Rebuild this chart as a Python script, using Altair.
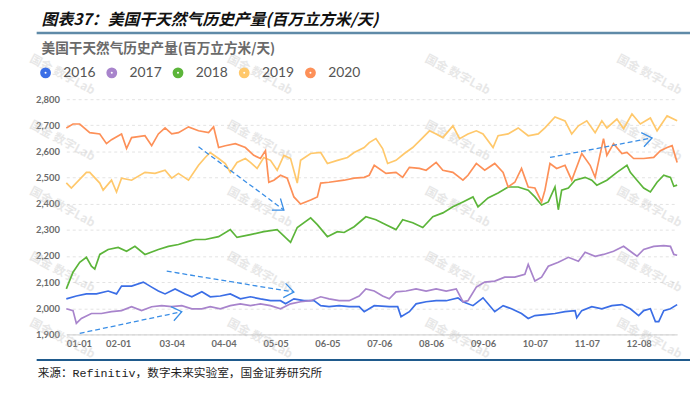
import altair as alt
import pandas as pd
import numpy as np

years = ["2016", "2017", "2018", "2019", "2020"]
colors = ["#3b6ee6", "#a884cc", "#5cb53a", "#ffc86b", "#fd9058"]

days_2016 = [0, 6, 12, 18, 25, 30, 33, 39, 46, 51, 55, 59, 65, 71, 75, 81, 86, 92, 98, 104, 110, 116, 122, 128, 131, 136, 142, 148, 152, 157, 163, 169, 175, 178, 184, 193, 198, 200, 205, 209, 215, 221, 227, 234, 237, 243, 249, 252, 256, 261, 266, 272, 276, 280, 286, 292, 298, 304, 305, 308, 314, 320, 326, 332, 337, 342, 345, 349, 352, 354, 357, 361, 365]
vals_2016 = [2036, 2047, 2055, 2055, 2066, 2055, 2085, 2085, 2100, 2081, 2066, 2055, 2074, 2055, 2044, 2063, 2044, 2047, 2055, 2036, 2044, 2036, 2029, 2029, 2017, 2036, 2029, 2029, 2010, 2006, 2010, 2006, 2006, 1987, 2010, 2006, 2006, 1968, 1987, 2017, 2025, 2029, 2029, 2040, 2025, 2010, 2040, 2017, 1987, 2010, 1998, 1980, 1961, 1972, 1976, 1980, 1987, 1991, 1964, 1991, 2006, 1998, 2010, 2014, 1998, 1972, 1991, 1998, 1949, 1949, 1991, 1998, 2014]

days_2017 = [0, 4, 6, 9, 15, 21, 27, 33, 39, 45, 51, 57, 63, 69, 75, 81, 86, 92, 98, 104, 110, 116, 122, 128, 134, 140, 146, 152, 157, 163, 169, 175, 179, 184, 189, 193, 197, 203, 209, 215, 221, 227, 233, 237, 240, 245, 250, 256, 262, 268, 274, 276, 280, 284, 288, 294, 300, 306, 310, 316, 321, 327, 333, 337, 341, 345, 351, 357, 361, 363, 365]
vals_2017 = [1998, 1991, 1942, 1961, 1980, 1980, 1987, 1991, 2006, 1991, 2006, 2010, 2006, 2010, 1998, 1998, 2006, 1998, 2010, 2017, 2010, 2017, 2010, 1998, 2017, 2025, 2029, 2044, 2036, 2029, 2029, 2047, 2074, 2066, 2047, 2036, 2063, 2066, 2074, 2066, 2074, 2066, 2074, 2025, 2029, 2081, 2100, 2104, 2119, 2119, 2130, 2168, 2104, 2119, 2161, 2176, 2195, 2180, 2214, 2199, 2206, 2218, 2237, 2218, 2199, 2225, 2237, 2240, 2237, 2206, 2203]

days_2018 = [0, 4, 8, 12, 15, 17, 20, 25, 31, 36, 41, 47, 55, 61, 67, 73, 77, 83, 91, 98, 102, 110, 118, 126, 134, 138, 146, 150, 156, 162, 166, 172, 179, 185, 191, 197, 201, 207, 213, 219, 225, 231, 237, 243, 246, 252, 258, 264, 270, 276, 280, 284, 288, 292, 294, 296, 300, 304, 310, 314, 317, 323, 329, 335, 337, 341, 345, 349, 353, 357, 361, 363, 365]
vals_2018 = [2074, 2138, 2176, 2195, 2161, 2150, 2206, 2225, 2233, 2218, 2237, 2206, 2225, 2237, 2244, 2256, 2263, 2263, 2274, 2301, 2271, 2282, 2293, 2301, 2252, 2309, 2346, 2320, 2274, 2293, 2290, 2312, 2350, 2339, 2320, 2301, 2339, 2327, 2309, 2350, 2365, 2388, 2407, 2426, 2388, 2422, 2441, 2464, 2464, 2452, 2426, 2395, 2407, 2464, 2377, 2452, 2460, 2490, 2501, 2490, 2471, 2490, 2520, 2547, 2520, 2490, 2460, 2445, 2482, 2509, 2501, 2467, 2471]

days_2019 = [0, 3, 12, 14, 20, 22, 27, 30, 33, 39, 47, 53, 59, 63, 67, 73, 79, 83, 86, 91, 95, 98, 102, 107, 110, 114, 118, 122, 126, 130, 134, 138, 140, 146, 152, 156, 162, 168, 172, 178, 181, 185, 189, 192, 197, 202, 207, 213, 217, 221, 225, 231, 235, 240, 245, 249, 255, 258, 264, 270, 276, 282, 286, 292, 298, 302, 306, 311, 316, 320, 323, 329, 333, 338, 343, 349, 353, 359, 365]
vals_2019 = [2480, 2460, 2520, 2520, 2479, 2452, 2490, 2445, 2498, 2490, 2520, 2516, 2528, 2498, 2516, 2490, 2547, 2577, 2596, 2573, 2554, 2520, 2558, 2573, 2558, 2535, 2577, 2566, 2528, 2585, 2573, 2479, 2566, 2592, 2596, 2554, 2566, 2577, 2596, 2615, 2634, 2649, 2611, 2554, 2566, 2592, 2615, 2653, 2679, 2667, 2653, 2698, 2649, 2667, 2679, 2667, 2615, 2660, 2667, 2690, 2660, 2667, 2690, 2732, 2717, 2667, 2698, 2717, 2672, 2717, 2690, 2724, 2687, 2743, 2705, 2728, 2679, 2736, 2717]

days_2020 = [0, 4, 8, 14, 20, 24, 27, 33, 36, 39, 47, 51, 55, 59, 63, 67, 73, 79, 85, 88, 91, 95, 101, 107, 112, 116, 119, 121, 124, 128, 132, 136, 140, 146, 150, 152, 157, 166, 172, 178, 181, 184, 191, 197, 201, 205, 211, 215, 221, 225, 231, 237, 240, 245, 250, 256, 261, 264, 268, 272, 276, 280, 284, 286, 289, 293, 298, 302, 308, 313, 316, 321, 323, 327, 332, 335, 339, 345, 351, 355, 359, 362, 365]
vals_2020 = [2690, 2705, 2705, 2672, 2667, 2630, 2645, 2667, 2611, 2653, 2660, 2622, 2667, 2690, 2667, 2672, 2694, 2679, 2672, 2694, 2615, 2622, 2630, 2615, 2585, 2573, 2603, 2482, 2490, 2509, 2498, 2426, 2399, 2414, 2426, 2479, 2482, 2490, 2498, 2501, 2509, 2547, 2516, 2520, 2501, 2539, 2535, 2528, 2558, 2528, 2520, 2490, 2509, 2554, 2528, 2554, 2520, 2464, 2482, 2535, 2464, 2460, 2407, 2452, 2554, 2535, 2547, 2490, 2592, 2547, 2501, 2649, 2585, 2630, 2592, 2596, 2573, 2573, 2577, 2603, 2615, 2622, 2558]

tick_days = [0, 31, 63, 94, 125, 156, 187, 218, 249, 280, 311, 342]
tick_labels = ["01-01", "02-01", "03-04", "04-04", "05-05", "06-05", "07-06", "08-06", "09-06", "10-07", "11-07", "12-08"]
y_ticks = [1900, 2000, 2100, 2200, 2300, 2400, 2500, 2600, 2700, 2800]

arrow_x1 = [79, 289, 60, 8]
arrow_y1 = [2618, 2577, 2142, 1904]
arrow_x2 = [130, 350, 136, 69]
arrow_y2 = [2376, 2652, 2062, 1987]

header_text = "图表37：美国干天然气历史产量(百万立方米/天)"
subtitle_text = "美国干天然气历史产量(百万立方米/天)"
source_text = "来源：Refinitiv，数字未来实验室，国金证券研究所"
watermark_text = "国金 数字Lab"

W, H = 618, 238
X_DOM = [0, 365]
Y_DOM = [1900, 2800]

series = {"2016": (days_2016, vals_2016), "2017": (days_2017, vals_2017),
          "2018": (days_2018, vals_2018), "2019": (days_2019, vals_2019),
          "2020": (days_2020, vals_2020)}
rows = []
for yr, (ds, vs) in series.items():
    for d, v in zip(ds, vs):
        rows.append({"year": yr, "day": d, "value": v})
df = pd.DataFrame(rows)

label_expr = "[" + ",".join("'%s'" % t for t in tick_labels) + "][indexof([" + ",".join(str(t) for t in tick_days) + "], datum.value)]"

xs = alt.Scale(domain=X_DOM, nice=False, zero=False)
ys = alt.Scale(domain=Y_DOM, nice=False, zero=False)

x_axis = alt.Axis(values=tick_days, labelExpr=label_expr, title=None, grid=False, ticks=False,
                  domainColor="#cccccc", labelFont="Lato", labelFontSize=9.5, labelFontWeight="bold",
                  labelColor="#6b6b6b", labelPadding=4, labelOverlap=False)
y_axis = alt.Axis(values=y_ticks, format=",.0f", title=None, domain=False, ticks=False,
                  gridDash=[3, 3], gridColor="#e3e3e3", labelFont="Lato", labelFontSize=9.5,
                  labelFontWeight="bold", labelColor="#6b6b6b", labelPadding=7,
                  labelOverlap=False, tickCount=10)

lines = alt.Chart(df).mark_line(strokeWidth=1.7).encode(
    x=alt.X("day:Q", scale=xs, axis=x_axis),
    y=alt.Y("value:Q", scale=ys, axis=y_axis),
    color=alt.Color("year:N", scale=alt.Scale(domain=years, range=colors),
                    legend=alt.Legend(title=None, orient="none", legendX=-28, legendY=-34,
                                      direction="horizontal", symbolType="circle", symbolSize=20,
                                      symbolStrokeWidth=6.5, symbolOpacity=1, labelFont="Lato",
                                      labelFontSize=14, labelColor="#555555", labelOffset=11,
                                      columnPadding=0, padding=0)),
)

adf = pd.DataFrame({"x1": arrow_x1, "y1": arrow_y1, "x2": arrow_x2, "y2": arrow_y2})
dx = (adf["x2"] - adf["x1"]) * W / (X_DOM[1] - X_DOM[0])
dy = -(adf["y2"] - adf["y1"]) * H / (Y_DOM[1] - Y_DOM[0])
adf["ang"] = (np.degrees(np.arctan2(dy, dx)) + 360) % 360

arrow_color = "#3a8ee6"
arrow_lines = alt.Chart(adf).mark_rule(color=arrow_color, strokeWidth=1.3, strokeDash=[5, 3]).encode(
    x=alt.X("x1:Q", scale=xs, axis=x_axis), y=alt.Y("y1:Q", scale=ys, axis=y_axis), x2="x2:Q", y2="y2:Q")
arrow_heads = alt.Chart(adf).mark_point(shape="M-1,-0.75L0,0L-1,0.75", filled=False, color=arrow_color,
                                        strokeWidth=1.3, size=380, opacity=1).encode(
    x=alt.X("x2:Q", scale=xs, axis=x_axis), y=alt.Y("y2:Q", scale=ys, axis=y_axis),
    angle=alt.Angle("ang:Q", scale=None))

# faint watermark grid (decoration, pixel offsets from the plot's top-left corner)
wm_cols = [-4, 196, 396, 590]
wm_rows = [-25, 42, 109, 175, 242]
wdf = pd.DataFrame([{"px": c, "py": r} for c in wm_cols for r in wm_rows])
watermarks = alt.Chart(wdf).mark_text(text=watermark_text, angle=28, font="Noto Sans CJK SC",
                                      fontSize=12, fontWeight="bold", color="#bdbdbd", opacity=0.35).encode(
    x=alt.X("px:Q", scale=None), y=alt.Y("py:Q", scale=None))

one = pd.DataFrame({"k": [0]})
header = alt.Chart(one).mark_text(text=header_text, align="left", baseline="middle",
                                  font="Noto Sans CJK SC", fontSize=16, fontWeight="bold",
                                  fontStyle="italic", color="#111111").encode(x=alt.value(-25), y=alt.value(-80))
top_rule = alt.Chart(one).mark_rule(color="#5f8aa8", strokeWidth=2.5).encode(
    x=alt.value(-30), x2=alt.value(640), y=alt.value(-67))
subtitle = alt.Chart(one).mark_text(text=subtitle_text, align="left", baseline="middle",
                                    font="Noto Sans CJK SC", fontSize=13.8, fontWeight="bold",
                                    color="#6a6a6a").encode(x=alt.value(-25), y=alt.value(-51))
bottom_rule = alt.Chart(one).mark_rule(color="#1f5a8c", strokeWidth=2).encode(
    x=alt.value(-30), x2=alt.value(640), y=alt.value(264))
source = alt.Chart(one).mark_text(text=source_text, align="left", baseline="middle",
                                  font="Liberation Mono, Noto Sans CJK SC", fontSize=11.8,
                                  color="#222222").encode(x=alt.value(-29), y=alt.value(277))

chart = alt.layer(watermarks, lines, arrow_lines, arrow_heads, header, top_rule, subtitle, bottom_rule, source).properties(
    width=W, height=H, autosize="none",
    padding={"left": 59, "top": 90, "right": 13, "bottom": 54},
    background="white",
).configure_view(stroke=None)

chart.save("out.html", embed_options={"renderer": "svg", "actions": False})
